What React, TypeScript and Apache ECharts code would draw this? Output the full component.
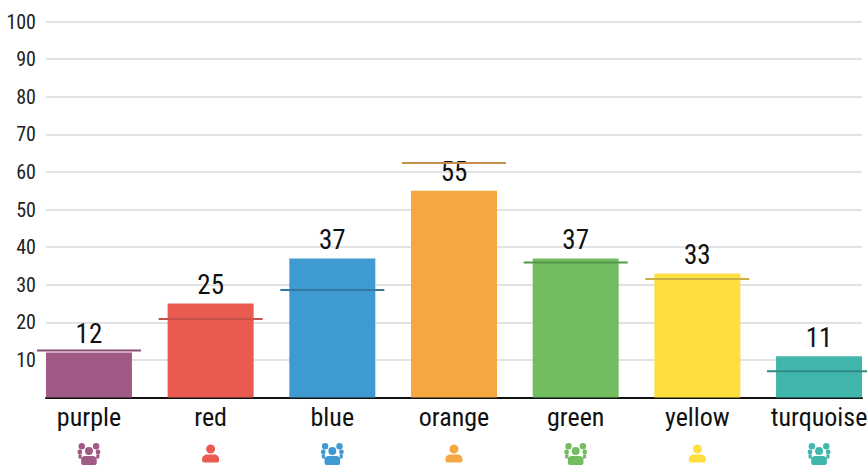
import React, { useEffect, useRef } from "react";
import * as echarts from "echarts";

const categories = ["purple", "red", "blue", "orange", "green", "yellow", "turquoise"];
const values = [12, 25, 37, 55, 37, 33, 11];
const targets = [12.5, 20.9, 28.6, 62.4, 35.9, 31.5, 7.0];
const barColors = ["#a05a85", "#e95b50", "#409ad2", "#f5a742", "#71bd60", "#ffdf3f", "#41b6ad"];
const targetColors = ["#8a4b74", "#c8504a", "#33789f", "#c48f48", "#55964b", "#cdb044", "#2f8a85"];
const groupSizes = ["many", "one", "many", "one", "many", "one", "many"];
const yTicks = [10, 20, 30, 40, 50, 60, 70, 80, 90, 100];

const FONT = '"Roboto Condensed", "Liberation Sans", sans-serif';
const BAR_WIDTH = 86;

const circle = (cx: number, cy: number, r: number) =>
  `M${cx - r} ${cy}A${r} ${r} 0 1 1 ${cx + r} ${cy}A${r} ${r} 0 1 1 ${cx - r} ${cy}Z`;

const ONE_PERSON =
  "path://" +
  circle(8.5, 4.5, 4.5) +
  "M0 14.5C0 11.5 2.5 10 5 10L12 10C14.5 10 17 11.5 17 14.5L17 16C17 17.2 16.2 18 15 18L2 18C0.8 18 0 17.2 0 16Z";

const THREE_PEOPLE =
  "path://" +
  circle(4.3, 3.2, 3.2) +
  circle(18.7, 3.2, 3.2) +
  circle(11.5, 8, 4) +
  circle(2.4, 9, 2.4) +
  circle(20.6, 9, 2.4) +
  "M1 11.5L4.2 11.5L4.2 15.5L2 15.5C1.4 15.5 1 15 1 14.5Z" +
  "M18.8 11.5L22 11.5L22 14.5C22 15 21.6 15.5 21 15.5L18.8 15.5Z" +
  "M3.7 16.5C3.7 14.2 5.5 13 7.5 13L15.5 13C17.5 13 19.3 14.2 19.3 16.5L19.3 20C19.3 21.2 18.4 22 17.3 22L5.7 22C4.6 22 3.7 21.2 3.7 20Z";

// Bars are drawn as a custom series so that the fixed x range stays exact.
const renderBar = (params: any, api: any) => {
  const i = api.value(0);
  const v = api.value(1);
  const [cx, top] = api.coord([i, v]);
  const [, bottom] = api.coord([i, 0]);
  return {
    type: "group",
    children: [
      {
        type: "rect",
        shape: { x: cx - BAR_WIDTH / 2, y: top, width: BAR_WIDTH, height: bottom - top },
        style: { fill: barColors[params.dataIndex] },
      },
      {
        type: "text",
        style: {
          text: String(v),
          x: cx,
          y: top - 5,
          align: "center",
          verticalAlign: "bottom",
          fill: "#111",
          fontFamily: FONT,
          fontSize: 27,
        },
      },
    ],
  };
};

export default function App() {
  const ref = useRef<HTMLDivElement>(null);

  useEffect(() => {
    document.body.style.margin = "0";
    const chart = echarts.init(ref.current!, null, { renderer: "svg" });
    chart.setOption({
      animation: false,
      textStyle: { fontFamily: FONT },
      grid: { left: 46, right: 5, top: 21.5, height: 376, outerBoundsMode: "none" },
      xAxis: {
        type: "value",
        min: -0.353,
        max: 6.353,
        splitLine: { show: false },
        axisTick: { show: false },
        axisLine: { show: true, onZero: true, lineStyle: { color: "#111", width: 2 } },
        axisLabel: {
          customValues: categories.map((_, i) => i),
          formatter: (v: number) => categories[v] ?? "",
          color: "#111",
          fontFamily: FONT,
          fontSize: 26,
          margin: 6,
        },
      },
      yAxis: {
        type: "value",
        min: 0,
        max: 100,
        interval: 10,
        axisLine: { show: false },
        axisTick: { show: false },
        splitLine: { lineStyle: { color: "#e2e2e2", width: 2 } },
        axisLabel: {
          customValues: yTicks,
          color: "#222",
          fontFamily: FONT,
          fontSize: 20,
          margin: 10,
        },
      },
      series: [
        {
          type: "custom",
          renderItem: renderBar,
          clip: false,
          z: 2,
          encode: { x: 0, y: 1 },
          data: values.map((v, i) => [i, v]),
        },
        {
          type: "scatter",
          symbol: "rect",
          symbolSize: [104, 2],
          clip: false,
          z: 4,
          data: targets.map((v, i) => ({
            value: [i, v],
            itemStyle: { color: targetColors[i], opacity: 1 },
          })),
        },
        {
          type: "scatter",
          clip: false,
          z: 3,
          silent: true,
          data: categories.map((_, i) => {
            const many = groupSizes[i] === "many";
            return {
              value: [i, 0],
              symbol: many ? THREE_PEOPLE : ONE_PERSON,
              symbolSize: many ? [23, 22] : [17, 18],
              symbolOffset: [0, many ? 56.5 : 56],
              itemStyle: { color: barColors[i], opacity: 1 },
            };
          }),
        },
      ],
    });
    return () => chart.dispose();
  }, []);

  return <div ref={ref} style={{ width: 867, height: 466 }} />;
}
